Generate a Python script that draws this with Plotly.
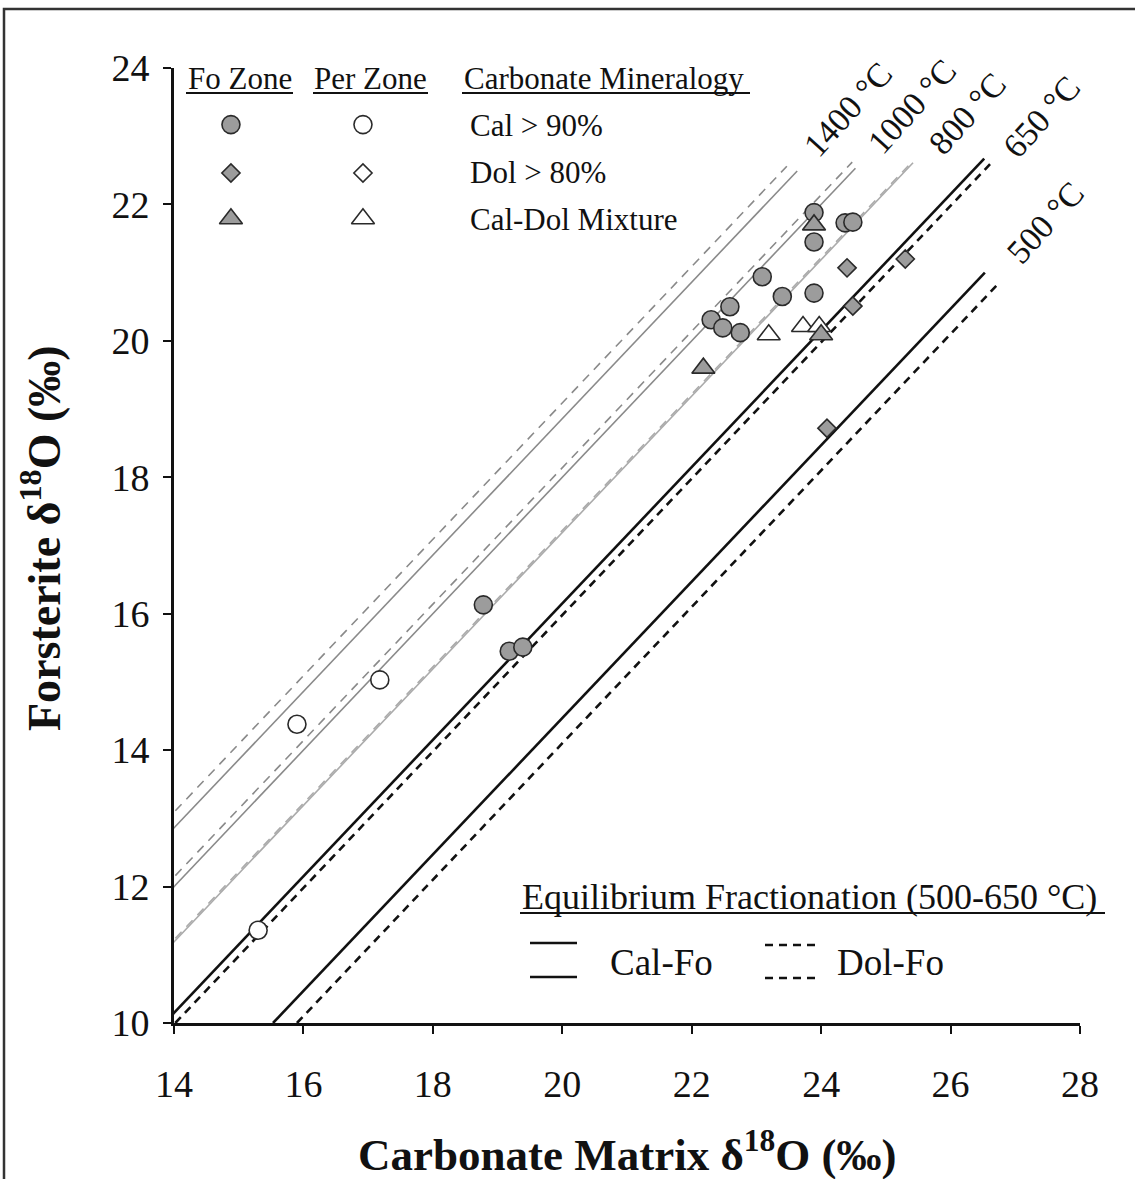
import plotly.graph_objects as go

# ---- measured oxygen isotope data (per mil) ----
# Forsterite zone, calcite-dominated carbonate
fo_cal_x = [23.89, 23.89, 24.37, 24.49, 23.09, 23.40, 23.89, 22.59, 22.30, 22.48, 22.75, 18.78, 19.18, 19.39]
fo_cal_y = [21.88, 21.45, 21.73, 21.74, 20.94, 20.65, 20.70, 20.50, 20.31, 20.19, 20.12, 16.13, 15.45, 15.51]
# Forsterite zone, dolomite-dominated carbonate
fo_dol_x = [24.40, 25.30, 24.49, 24.09]
fo_dol_y = [21.07, 21.20, 20.51, 18.72]
# Forsterite zone, calcite-dolomite mixtures
fo_mix_x = [23.89, 24.00, 22.18]
fo_mix_y = [21.70, 20.09, 19.60]
# Periclase zone, calcite-dominated carbonate
per_cal_x = [17.18, 15.90, 15.30]
per_cal_y = [15.03, 14.38, 11.36]
# Periclase zone, calcite-dolomite mixtures
per_mix_x = [23.19, 23.72, 23.97]
per_mix_y = [20.09, 20.21, 20.21]

# ---- equilibrium isotherms: forsterite = carbonate + offset ----
iso_temps = ["1400", "1000", "800", "650", "500"]
cal_fo_offset = [-1.14, -2.00, -2.81, -3.85, -5.53]
dol_fo_offset = [-0.91, -1.86, -2.78, -4.02, -5.90]
cal_fo_x_end = [23.63, 24.53, 25.42, 26.52, 26.53]
dol_fo_x_end = [23.47, 24.48, 25.42, 26.61, 26.72]

x_ticks = [14, 16, 18, 20, 22, 24, 26, 28]
y_ticks = [10, 12, 14, 16, 18, 20, 22, 24]

SERIF = "Liberation Serif"
GRAY_FILL = "#9c9c9c"
EDGE = "#2a2a2a"

fig = go.Figure()

# isotherm styles by temperature
iso_style = {
    "1400": dict(color="#8a8a8a", width=1.6),
    "1000": dict(color="#8a8a8a", width=1.6),
    "800": dict(color="#ababab", width=1.6),
    "650": dict(color="#111111", width=2.6),
    "500": dict(color="#111111", width=2.6),
}

for t, oc, od, xc, xd in zip(iso_temps, cal_fo_offset, dol_fo_offset, cal_fo_x_end, dol_fo_x_end):
    st = iso_style[t]
    xs_c = [max(13.0, 10.0 - oc), xc]
    xs_d = [max(13.0, 10.0 - od), xd]
    fig.add_trace(go.Scatter(
        x=xs_c, y=[v + oc for v in xs_c], mode="lines",
        line=dict(color=st["color"], width=st["width"]),
        hoverinfo="skip", showlegend=False))
    dash = "9px,7px" if t in ("1400", "1000", "800") else "8px,6px"
    fig.add_trace(go.Scatter(
        x=xs_d, y=[v + od for v in xs_d], mode="lines",
        line=dict(color=st["color"], width=st["width"], dash=dash),
        hoverinfo="skip", showlegend=False))


def add_points(xs, ys, symbol, filled, size):
    fig.add_trace(go.Scatter(
        x=xs, y=ys, mode="markers",
        marker=dict(symbol=symbol, size=size,
                    color=GRAY_FILL if filled else "white",
                    line=dict(color=EDGE, width=1.6)),
        hoverinfo="x+y", showlegend=False, cliponaxis=False))


add_points(per_cal_x, per_cal_y, "circle", False, 18)
add_points(fo_cal_x, fo_cal_y, "circle", True, 18)
add_points(fo_dol_x, fo_dol_y, "diamond", True, 14)
add_points(per_mix_x, per_mix_y, "triangle-up", False, 20)
add_points(fo_mix_x, fo_mix_y, "triangle-up", True, 20)

# ---- symbol key (top left) ----
key_rows_y = [23.17, 22.46, 21.79]
key_symbols = ["circle", "diamond", "triangle-up"]
key_sizes = [18, 14, 20]
key_labels = ["Cal > 90%", "Dol > 80%", "Cal-Dol Mixture"]
for ky, sym, sz in zip(key_rows_y, key_symbols, key_sizes):
    fig.add_trace(go.Scatter(
        x=[14.88], y=[ky], mode="markers",
        marker=dict(symbol=sym, size=sz, color=GRAY_FILL, line=dict(color=EDGE, width=1.6)),
        hoverinfo="skip", showlegend=False))
    fig.add_trace(go.Scatter(
        x=[16.92], y=[ky], mode="markers",
        marker=dict(symbol=sym, size=sz, color="white", line=dict(color=EDGE, width=1.6)),
        hoverinfo="skip", showlegend=False))

annotations = []
shapes = []


def px_x(p):
    return (p - 174) / 906.0


def px_y(p):
    return (1023 - p) / 955.0


def text(s, x, y, size, xanchor="left", angle=0, bold=False):
    annotations.append(dict(
        text=f"<b>{s}</b>" if bold else s, x=x, y=y, xref="paper", yref="paper",
        xanchor=xanchor, yanchor="middle", showarrow=False, textangle=angle,
        font=dict(family=SERIF, size=size, color="#111111")))


def hline(x0, x1, y, width=2.2, dash=None, color="#111111"):
    line = dict(color=color, width=width)
    if dash:
        line["dash"] = dash
    shapes.append(dict(type="line", xref="paper", yref="paper",
                       x0=px_x(x0), x1=px_x(x1), y0=px_y(y), y1=px_y(y), line=line))


# key headers
text("Fo Zone", px_x(240), px_y(78), 31, xanchor="center")
text("Per Zone", px_x(370), px_y(78), 31, xanchor="center")
text("Carbonate Mineralogy", px_x(462), px_y(78), 31)
hline(186, 293, 93)
hline(313, 428, 93)
hline(462, 750, 93)
for lbl, py in zip(key_labels, [125, 173, 219]):
    text(lbl, px_x(468), px_y(py), 31)

# isotherm labels
iso_label_pos = [(848, 110), (912, 107), (967, 113), (1042, 117), (1045, 222)]
for t, (lx, ly) in zip(iso_temps, iso_label_pos):
    text(f"{t} °C", px_x(lx), px_y(ly), 34, xanchor="center", angle=-48)

# line-style key (bottom right)
text("Equilibrium Fractionation (500-650 °C)", px_x(520), px_y(897), 36)
hline(520, 1105, 913)
hline(530, 577, 943, width=2.4)
hline(530, 577, 977, width=2.4)
text("Cal-Fo", px_x(608), px_y(962), 37)
hline(765, 815, 945, width=2.4, dash="8px,6px")
hline(765, 815, 978, width=2.4, dash="8px,6px")
text("Dol-Fo", px_x(835), px_y(962), 37)

# axis titles
text("Carbonate Matrix δ<sup>18</sup>O (‰)", px_x(627), px_y(1151), 45, xanchor="center", bold=True)
text("Forsterite δ<sup>18</sup>O (‰)", px_x(41), px_y(538), 46, xanchor="center", angle=-90, bold=True)

# outer frame
shapes.append(dict(type="rect", xref="paper", yref="paper",
                   x0=px_x(4), x1=px_x(1145), y0=px_y(1190), y1=px_y(9),
                   line=dict(color="#333333", width=2.5), fillcolor="rgba(0,0,0,0)",
                   layer="above"))

fig.update_layout(
    width=1135, height=1179,
    margin=dict(l=174, r=55, t=68, b=156),
    paper_bgcolor="white", plot_bgcolor="white",
    font=dict(family=SERIF, color="#111111"),
    annotations=annotations, shapes=shapes,
    showlegend=False,
)
fig.update_xaxes(
    range=[14, 28], tickvals=x_ticks, ticktext=[str(v) for v in x_ticks],
    showgrid=False, zeroline=False, showline=True, linecolor="#111111", linewidth=2.6,
    ticks="outside", ticklen=8, tickwidth=1.5, tickcolor="#111111",
    tickfont=dict(family=SERIF, size=38, color="#111111"), ticklabelstandoff=18,
)
fig.update_yaxes(
    range=[10, 24], tickvals=y_ticks, ticktext=[str(v) for v in y_ticks],
    showgrid=False, zeroline=False, showline=True, linecolor="#111111", linewidth=2.6,
    ticks="outside", ticklen=8, tickwidth=1.5, tickcolor="#111111",
    tickfont=dict(family=SERIF, size=38, color="#111111"), ticklabelstandoff=6,
)

fig.write_html("out.html")
